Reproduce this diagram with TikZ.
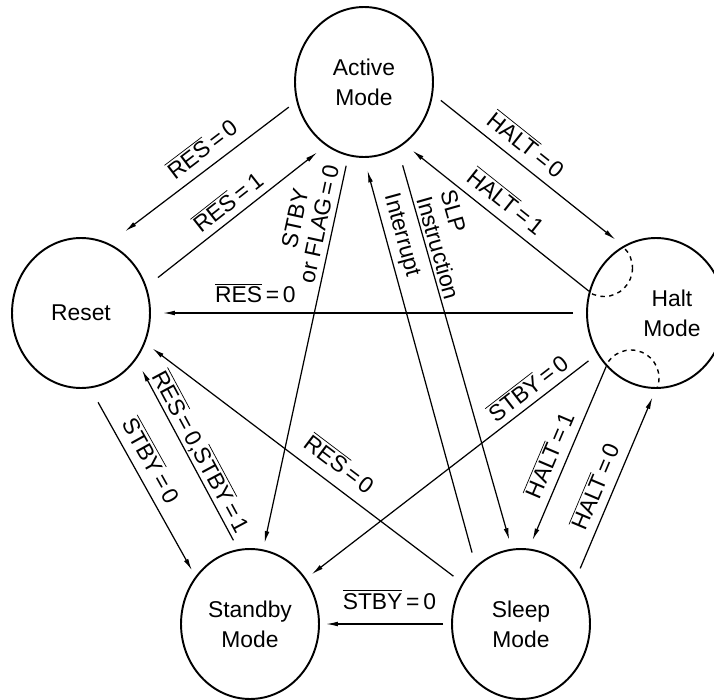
\documentclass[tikz,border=0pt]{standalone}
\usepackage{fontspec}
\setmainfont{Liberation Sans}
\usepackage{tikz}
\usetikzlibrary{arrows.meta,shapes.geometric}
\newcommand{\ovl}[1]{$\overline{\mbox{#1}}$}
\tikzstyle{modenode}=[ellipse, draw, line width=1.1pt, minimum width=2.76cm, minimum height=3cm, align=center, font=\fontsize{13}{17}\selectfont]
\tikzstyle{modetext}=[align=center, font=\fontsize{13}{17}\selectfont]
\tikzstyle{trans}=[-{Latex[length=6.8pt,width=2.7pt]}, line width=0.7pt]
\tikzstyle{translabel}=[sloped, above, inner sep=5pt, font=\fontsize{13}{14}\selectfont]
\tikzstyle{haltdash}=[dash pattern=on 2.5pt off 2.5pt, line width=0.8pt]

\begin{document}
\begin{tikzpicture}[x=0.02cm, y=-0.02cm]
    \fill[white] (0,0) rectangle (714,700);
    \useasboundingbox (0,0) rectangle (714,700);

    % Modos
    \node[modenode] (active) at (364,82) {Active\\Mode};
    \node[modenode] (reset) at (81,313) {Reset};
    \node[modenode, label={[modetext, xshift=0.32cm]center:Halt\\Mode}] (halt) at (656,313) {};
    \node[modenode] (standby) at (250,624) {Standby\\Mode};
    \node[modenode] (sleep) at (521,624) {Sleep\\Mode};

    % Arcos tracejados dentro do Halt
    \begin{scope}
      \clip (halt.center) ellipse [x radius=69, y radius=75];
      \draw[haltdash] (604,268) circle [radius=28.5];
      \draw[haltdash] (631,378) circle [radius=28];
    \end{scope}

    % Transições de/para Reset
    \draw[trans, shorten <=0.19cm, shorten >=0.4cm] (active.196) --
      node[translabel, pos=0.44, inner sep=5.4pt] {\ovl{RES}\,=\,0} (reset.68);
    \draw[trans, shorten <=0.29cm, shorten >=0.22cm] (reset.22) --
      node[translabel, pos=0.51, inner sep=3.7pt] {\ovl{RES}\,=\,1} (active.239);
    \draw[trans, shorten <=0.26cm, shorten >=0.24cm] (halt.180) --
      node[translabel, pos=0.76, inner sep=5.5pt] {\ovl{RES}\,=\,0} (reset.0);
    \draw[trans, shorten <=0.22cm, shorten >=0.18cm] (sleep.145) --
      node[translabel, pos=0.425, inner sep=6.5pt] {\ovl{RES}\,=\,0} (reset.335);
    \draw[trans, shorten <=0.2cm, shorten >=0.24cm] (standby.99) --
      node[translabel, pos=0.48, inner sep=1pt] {\ovl{RES}\,=\,0,\ovl{STBY}\,=\,1} (reset.320);
    \draw[trans, shorten <=0.32cm, shorten >=0.14cm] (reset.277) --
      node[translabel, pos=0.43, inner sep=5pt] {\ovl{STBY}\,=\,0} (standby.139);

    % Transições de/para Active
    \draw[trans, shorten <=0.2cm, shorten >=0.13cm] (active.258) --
      node[translabel, pos=0.18, inner sep=3.2pt, align=center] {STBY\\or FLAG\,=\,0} (standby.80);
    \draw[trans, shorten <=0.2cm, shorten >=0.2cm] (active.350) --
      node[translabel, pos=0.43, inner sep=5.3pt] {\ovl{HALT}\,=\,0} (halt.116);
    \draw[trans, shorten >=0.21cm] (halt.162) --
      node[translabel, pos=0.51, inner sep=5.4pt] {\ovl{HALT}\,=\,1} (active.303);
    \draw[trans, shorten <=0.28cm, shorten >=0.26cm] (sleep.128) --
      node[translabel, pos=0.8, inner sep=2.5pt] {Interrupt} (active.270);
    \draw[trans, shorten <=0.35cm, shorten >=0.18cm] (active.297) --
      node[translabel, pos=0.256, inner sep=1.8pt, align=left] {SLP\\Instruction} (sleep.97);

    % Transições de Halt, Sleep e Standby
    \draw[trans, shorten <=0.22cm, shorten >=0.14cm] (halt.215) --
      node[translabel, pos=0.205, inner sep=3.4pt] {\ovl{STBY}\,=\,0} (standby.39);
    \draw[trans, shorten >=0.18cm] (halt.227) --
      node[translabel, pos=0.525, inner sep=4.7pt] {\ovl{HALT}\,=\,1} (sleep.84);
    \draw[trans, shorten <=0.2cm, shorten >=0.18cm] (sleep.40) --
      node[translabel, pos=0.446, inner sep=4.8pt] {\ovl{HALT}\,=\,0} (halt.270);
    \draw[trans, shorten <=0.16cm, shorten >=0.12cm] (sleep.180) --
      node[translabel, pos=0.47, inner sep=8pt] {\ovl{STBY}\,=\,0} (standby.0);
\end{tikzpicture}
\end{document}
